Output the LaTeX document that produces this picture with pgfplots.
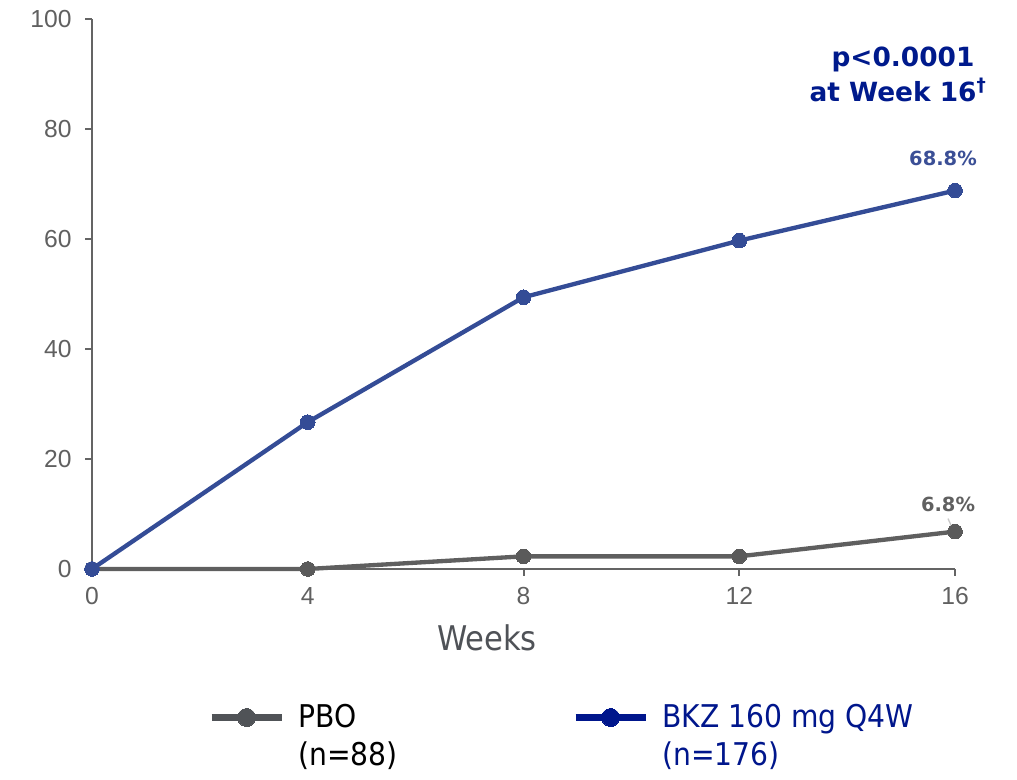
\documentclass[border=0pt]{standalone}
\usepackage{pgfplots}
\pgfplotsset{compat=1.18}
\usepackage{fontspec}
\setmainfont{Liberation Sans}
\newfontfamily\dvs{DejaVu Sans}
\newfontfamily\dvsc{DejaVu Sans Condensed}
\definecolor{bkzline}{RGB}{52,76,150}
\definecolor{pboline}{RGB}{95,95,95}
\definecolor{pbomark}{RGB}{90,90,90}
\definecolor{legpbo}{RGB}{80,83,87}
\definecolor{legbkz}{RGB}{0,22,140}
\definecolor{ptext}{RGB}{0,26,140}
\definecolor{labbkz}{RGB}{59,79,150}
\definecolor{axisgray}{RGB}{100,100,100}
\definecolor{tickgray}{RGB}{96,96,96}
\definecolor{weeksgray}{RGB}{79,82,87}
\definecolor{leader}{RGB}{200,200,200}
\begin{document}
\begin{tikzpicture}
\path[use as bounding box] (0,0) rectangle (762.75pt,585pt);
\begin{axis}[
  at={(69pt,158.25pt)}, anchor=south west,
  scale only axis, width=647.25pt, height=412.5pt,
  xmin=0, xmax=16, ymin=0, ymax=100,
  clip=false,
  axis x line=bottom, axis y line=left,
  axis line style={axisgray, line width=1.5pt, -},
  every outer x axis line/.append style={-},
  every outer y axis line/.append style={-},
  xtick={0,4,8,12,16}, ytick={0,20,40,60,80,100},
  tick align=outside, major tick length=5pt,
  tick style={axisgray, line width=1.5pt},
  ticklabel style={font=\fontsize{18.5}{21}\selectfont, text=tickgray},
  yticklabel style={xshift=-6.75pt},
  xticklabel style={yshift=-5.5pt},
  /pgf/number format/assume math mode=true,
  xlabel={Weeks},
  xlabel style={font=\dvsc\fontsize{25.5}{30}\selectfont, text=weeksgray,
    at={(axis description cs:0.4577,0)}, anchor=base, yshift=-61.5pt},
  legend columns=2,
  legend style={draw=none, fill=none, inner sep=0pt,
    at={(axis description cs:0.1344,-0.2387)}, anchor=north west,
    font=\dvsc\fontsize{23.5}{28.5}\selectfont,
    nodes={inner sep=0pt},
    /tikz/every odd column/.append style={column sep=10pt}},
  legend cell align=left,
  legend image code/.code={\draw[#1, mark repeat=2, mark phase=2] plot coordinates {(0pt,-2pt) (26.25pt,-2pt) (52.5pt,-2pt)};},
]
\addplot[pboline, line width=3.25pt, mark=*, mark size=5.5pt, mark options={fill=pbomark, draw=pbomark, line width=0pt}, forget plot]
  coordinates {(0,0) (4,0) (8,2.3) (12,2.3) (16,6.8)};
\addplot[bkzline, line width=3.25pt, mark=*, mark size=5.5pt, mark options={fill=bkzline, draw=bkzline, line width=0pt}, forget plot]
  coordinates {(0,0) (4,26.7) (8,49.4) (12,59.7) (16,68.8)};
\draw[leader, line width=1pt] ([xshift=-5.25pt,yshift=9.75pt]axis cs:16,6.8) -- ([xshift=-1.5pt,yshift=1.5pt]axis cs:16,6.8);
\node[anchor=base, font=\dvs\bfseries\fontsize{14.6}{17}\selectfont, text=labbkz, xshift=-9pt, yshift=18.75pt] at (axis cs:16,68.8) {68.8\%};
\node[anchor=base, font=\dvs\bfseries\fontsize{14.6}{17}\selectfont, text=tickgray, xshift=-5.25pt, yshift=15pt] at (axis cs:16,6.8) {6.8\%};
\addlegendimage{legpbo, line width=5pt, mark=*, mark size=6.75pt, mark options={fill=legpbo, draw=legpbo, line width=0pt}}
\addlegendentry{\makebox[205.5pt][l]{\begin{tabular}[t]{@{}l@{}}PBO\\(n=88)\end{tabular}}}
\addlegendimage{legbkz, line width=5pt, mark=*, mark size=6.75pt, mark options={fill=legbkz, draw=legbkz, line width=0pt}}
\addlegendentry{\textcolor{legbkz}{\begin{tabular}[t]{@{}l@{}}BKZ 160 mg Q4W\\(n=176)\end{tabular}}}
\end{axis}
\node[anchor=base, font=\dvs\bfseries\fontsize{19.8}{24}\selectfont, text=ptext] at (677.25pt,534.75pt) {p<0.0001};
\node[anchor=base, font=\dvs\bfseries\fontsize{19.8}{24}\selectfont, text=ptext] at (673.5pt,508.5pt) {at Week 16\textsuperscript{†}};
\end{tikzpicture}
\end{document}
